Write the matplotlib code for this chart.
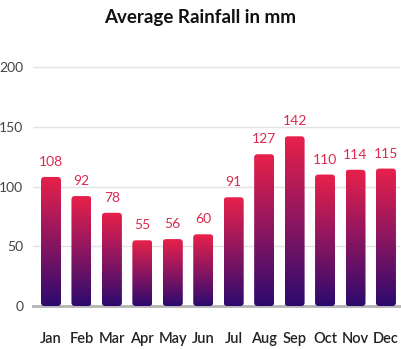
import numpy as np
import matplotlib
matplotlib.use("Agg")
import matplotlib.pyplot as plt
from matplotlib.colors import LinearSegmentedColormap
from matplotlib.patches import FancyBboxPatch

months = ["Jan", "Feb", "Mar", "Apr", "May", "Jun",
          "Jul", "Aug", "Sep", "Oct", "Nov", "Dec"]
rainfall = [108, 92, 78, 55, 56, 60, 91, 127, 142, 110, 114, 115]
yticks = [0, 50, 100, 150, 200]

plt.rcParams["font.family"] = ["Lato", "DejaVu Sans"]

W, H = 401, 349
fig = plt.figure(figsize=(W / 100, H / 100), dpi=100)

# axes placed in pixel terms: x from 33 to 400, y=0 at 306, y=200 at 67
px_per_unit = (306 - 67) / 200
ytop = 203
left, right = 33, 400
bottom_px = 306
top_px = bottom_px - ytop * px_per_unit
ax = fig.add_axes([left / W, (H - bottom_px) / H, (right - left) / W,
                   (bottom_px - top_px) / H])

band = 30.45
xl = -(51 - left) / band
ax.set_xlim(xl, xl + (right - left) / band)
ax.set_ylim(0, ytop)

cmap = LinearSegmentedColormap.from_list("rain", ["#2c0a6e", "#8c1660", "#e8214a"])
grad = np.linspace(0, 1, 256).reshape(-1, 1)

bw = 20 / band
x = np.arange(len(months))
rx = 3.5 / band
ry = 3.5 / px_per_unit
for xi, v in zip(x, rainfall):
    x0 = xi - bw / 2
    patch = FancyBboxPatch((x0, 0), bw, v,
                           boxstyle=f"round,pad=0,rounding_size={rx}",
                           mutation_aspect=ry / rx,
                           facecolor="none", edgecolor="none")
    ax.add_patch(patch)
    im = ax.imshow(grad, cmap=cmap, aspect="auto", origin="lower",
                   extent=(x0, x0 + bw, 0, v), zorder=3)
    im.set_clip_path(patch)
    ax.annotate(str(v), (xi, v), xytext=(0, 6.5), textcoords="offset points",
                ha="center", va="bottom", color="#dc2a4d", fontsize=10)

ax.set_yticks(yticks)
ax.set_xticks(x)
ax.set_xticklabels(months, fontweight="semibold")
ax.grid(axis="y", color="#e3e3e3", linewidth=1)
ax.set_axisbelow(True)
for s in ax.spines.values():
    s.set_visible(False)
ax.axhline(0, color="#b4b4b4", linewidth=2, zorder=2, clip_on=False)
ax.tick_params(axis="y", length=0, pad=7, labelsize=10, labelcolor="#444444")
ax.tick_params(axis="x", length=0, pad=18.5, labelsize=10.5, labelcolor="#222222")

fig.text(200 / W, 1 - 17 / H, "Average Rainfall in mm", ha="center", va="center",
         fontsize=13.5, fontweight="bold", color="#111111")

fig.savefig("out.png", dpi=100)
